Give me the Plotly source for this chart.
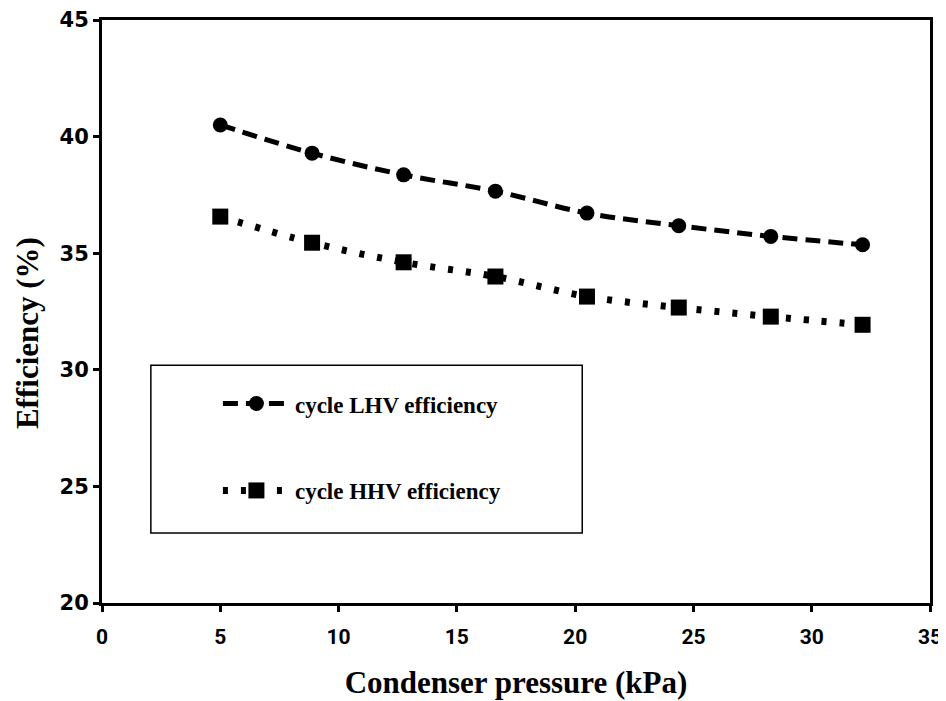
import plotly.graph_objects as go

pressure = [5.0, 8.88, 12.75, 16.63, 20.5, 24.38, 28.27, 32.15]
lhv_eff = [40.50, 39.29, 38.36, 37.66, 36.72, 36.18, 35.72, 35.36]
hhv_eff = [36.57, 35.45, 34.61, 34.00, 33.14, 32.67, 32.28, 31.93]

x_ticks = [0, 5, 10, 15, 20, 25, 30, 35]
y_ticks = [20, 25, 30, 35, 40, 45]

fig = go.Figure()
fig.add_trace(go.Scatter(
    x=pressure, y=lhv_eff, name="cycle LHV efficiency",
    mode="lines+markers", line=dict(color="black", width=5, dash="15px,8px", shape="spline"),
    marker=dict(symbol="circle", size=15, color="black"), legend="legend"))
fig.add_trace(go.Scatter(
    x=pressure, y=hhv_eff, name="cycle HHV efficiency",
    mode="lines+markers", line=dict(color="black", width=7, dash="5px,13px", shape="spline"),
    marker=dict(symbol="square", size=16, color="black"), legend="legend2"))

fig.add_shape(type="rect", xref="paper", yref="paper", x0=0.059, x1=0.580, y0=0.120, y1=0.408,
              line=dict(color="black", width=1.5), fillcolor="rgba(0,0,0,0)")

fig.add_annotation(text="Efficiency (%)", xref="paper", yref="paper", x=-0.0906, y=0.463,
                   xanchor="center", yanchor="middle", textangle=-90, showarrow=False,
                   font=dict(family="Liberation Serif", size=31, color="black", weight="bold"))

legend_font = dict(family="Liberation Serif", size=23, color="black", weight="bold")
fig.update_layout(
    width=938, height=693,
    margin=dict(l=94, r=16, t=12, b=98, autoexpand=False),
    plot_bgcolor="white", paper_bgcolor="white",
    showlegend=True,
    legend=dict(x=0.14, y=0.342, xanchor="left", yanchor="middle", bgcolor="rgba(0,0,0,0)",
                itemwidth=67, font=legend_font),
    legend2=dict(x=0.14, y=0.193, xanchor="left", yanchor="middle", bgcolor="rgba(0,0,0,0)",
                 itemwidth=67, font=legend_font),
    xaxis=dict(range=[0, 35], tickvals=x_ticks, ticks="outside", ticklen=6, tickwidth=3,
               tickcolor="black", showline=True, linewidth=3, linecolor="black", mirror=True,
               showgrid=False, zeroline=False, automargin=False, ticklabelstandoff=7,
               tickfont=dict(family="Liberation Sans Narrow, Roboto", size=21, color="black", weight="bold"),
               title=dict(text="Condenser pressure (kPa)", standoff=24,
                          font=dict(family="Liberation Serif", size=31, color="black", weight="bold"))),
    yaxis=dict(range=[20, 45], tickvals=y_ticks, ticks="outside", ticklen=6, tickwidth=3,
               tickcolor="black", showline=True, linewidth=3, linecolor="black", mirror=True,
               showgrid=False, zeroline=False, automargin=False,
               tickfont=dict(family="DejaVu Sans", size=21, color="black", weight="bold")),
)

fig.write_html("out.html")
